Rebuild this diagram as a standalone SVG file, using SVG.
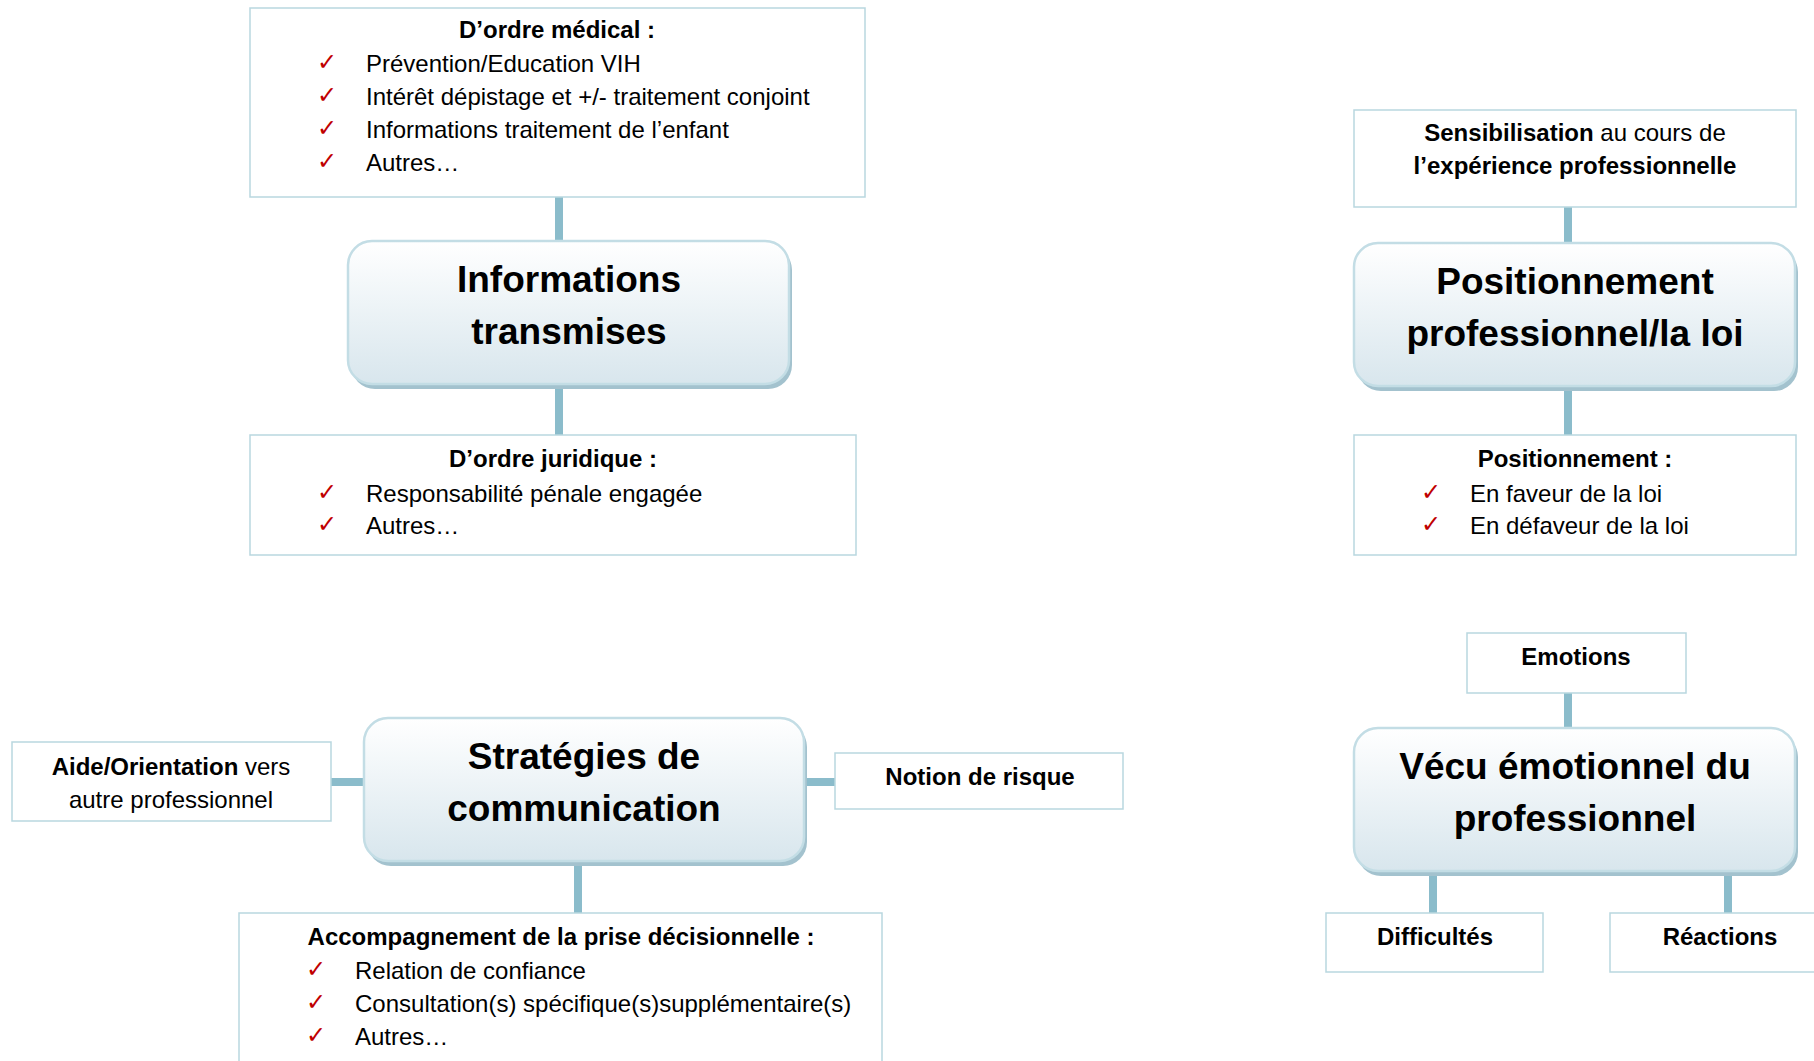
<svg xmlns="http://www.w3.org/2000/svg" width="1814" height="1061" viewBox="0 0 1814 1061">
<style>
.box{fill:#ffffff;stroke:#b9d7df;stroke-width:1.5}
.nd{fill:url(#ng);stroke:#c3dde5;stroke-width:2.5}
.sh{fill:#a3c2ce}
.t{font-family:"Liberation Sans",Arial,sans-serif;font-size:24px;fill:#000}
.c{text-anchor:middle}
.b{font-weight:bold}
.big{font-family:"Liberation Sans",Arial,sans-serif;font-size:37px;font-weight:bold;fill:#000;text-anchor:middle}
.ck{font-family:"DejaVu Sans",sans-serif;font-size:24px;fill:#c00000;text-anchor:middle}
.conn line{stroke:#8bbccb;stroke-width:8}
</style>
<defs>
<linearGradient id="ng" x1="0" y1="0" x2="0" y2="1">
<stop offset="0" stop-color="#ffffff"/>
<stop offset="1" stop-color="#d8e6ed"/>
</linearGradient>
</defs>
<rect width="1814" height="1061" fill="#ffffff"/>
<g class="conn" id="connectors">
<line x1="559" y1="197" x2="559" y2="243"/>
<line x1="559" y1="385" x2="559" y2="435"/>
<line x1="1568" y1="207" x2="1568" y2="245"/>
<line x1="1568" y1="387" x2="1568" y2="435"/>
<line x1="331" y1="782" x2="366" y2="782"/>
<line x1="803" y1="782" x2="835" y2="782"/>
<line x1="578" y1="862" x2="578" y2="913"/>
<line x1="1568" y1="693" x2="1568" y2="730"/>
<line x1="1433" y1="870" x2="1433" y2="913"/>
<line x1="1728" y1="870" x2="1728" y2="913"/>
</g>
<g id="medical">
<rect class="box" x="250" y="8" width="615" height="189"/>
<text class="t b c" x="557" y="38">D’ordre médical :</text>
<text class="ck" x="327" y="70">✓</text><text class="t" x="366" y="72">Prévention/Education VIH</text>
<text class="ck" x="327" y="103">✓</text><text class="t" x="366" y="105">Intérêt dépistage et +/- traitement conjoint</text>
<text class="ck" x="327" y="136">✓</text><text class="t" x="366" y="138">Informations traitement de l’enfant</text>
<text class="ck" x="327" y="169">✓</text><text class="t" x="366" y="171">Autres…</text>
</g>
<g id="informations">
<rect class="sh" x="351" y="246" width="441" height="143" rx="24"/>
<rect class="nd" x="348" y="241" width="441" height="143" rx="24"/>
<text class="big" x="569" y="292">Informations</text>
<text class="big" x="569" y="344">transmises</text>
</g>
<g id="juridique">
<rect class="box" x="250" y="435" width="606" height="120"/>
<text class="t b c" x="553" y="467">D’ordre juridique :</text>
<text class="ck" x="327" y="500">✓</text><text class="t" x="366" y="502">Responsabilité pénale engagée</text>
<text class="ck" x="327" y="532">✓</text><text class="t" x="366" y="534">Autres…</text>
</g>
<g id="sensibilisation">
<rect class="box" x="1354" y="110" width="442" height="97"/>
<text class="t c" x="1575" y="141"><tspan class="b">Sensibilisation</tspan> au cours de</text>
<text class="t b c" x="1575" y="174">l’expérience professionnelle</text>
</g>
<g id="positionnement-node">
<rect class="sh" x="1357" y="248" width="441" height="143" rx="24"/>
<rect class="nd" x="1354" y="243" width="441" height="143" rx="24"/>
<text class="big" x="1575" y="294">Positionnement</text>
<text class="big" x="1575" y="346">professionnel/la loi</text>
</g>
<g id="positionnement-box">
<rect class="box" x="1354" y="435" width="442" height="120"/>
<text class="t b c" x="1575" y="467">Positionnement :</text>
<text class="ck" x="1431" y="500">✓</text><text class="t" x="1470" y="502">En faveur de la loi</text>
<text class="ck" x="1431" y="532">✓</text><text class="t" x="1470" y="534">En défaveur de la loi</text>
</g>
<g id="aide">
<rect class="box" x="12" y="742" width="319" height="79"/>
<text class="t c" x="171" y="775"><tspan class="b">Aide/Orientation</tspan> vers</text>
<text class="t c" x="171" y="808">autre professionnel</text>
</g>
<g id="strategies">
<rect class="sh" x="367" y="723" width="440" height="143" rx="24"/>
<rect class="nd" x="364" y="718" width="440" height="143" rx="24"/>
<text class="big" x="584" y="769">Stratégies de</text>
<text class="big" x="584" y="821">communication</text>
</g>
<g id="notion">
<rect class="box" x="835" y="753" width="288" height="56"/>
<text class="t b c" x="980" y="785">Notion de risque</text>
</g>
<g id="accompagnement">
<rect class="box" x="239" y="913" width="643" height="160"/>
<text class="t b c" x="561" y="945">Accompagnement de la prise décisionnelle :</text>
<text class="ck" x="316" y="977">✓</text><text class="t" x="355" y="979">Relation de confiance</text>
<text class="ck" x="316" y="1010">✓</text><text class="t" x="355" y="1012">Consultation(s) spécifique(s)supplémentaire(s)</text>
<text class="ck" x="316" y="1043">✓</text><text class="t" x="355" y="1045">Autres…</text>
</g>
<g id="emotions">
<rect class="box" x="1467" y="633" width="219" height="60"/>
<text class="t b c" x="1576" y="665">Emotions</text>
</g>
<g id="vecu">
<rect class="sh" x="1357" y="733" width="441" height="143" rx="24"/>
<rect class="nd" x="1354" y="728" width="441" height="143" rx="24"/>
<text class="big" x="1575" y="779">Vécu émotionnel du</text>
<text class="big" x="1575" y="831">professionnel</text>
</g>
<g id="difficultes">
<rect class="box" x="1326" y="913" width="217" height="59"/>
<text class="t b c" x="1435" y="945">Difficultés</text>
</g>
<g id="reactions">
<rect class="box" x="1610" y="913" width="220" height="59"/>
<text class="t b c" x="1720" y="945">Réactions</text>
</g>
</svg>
